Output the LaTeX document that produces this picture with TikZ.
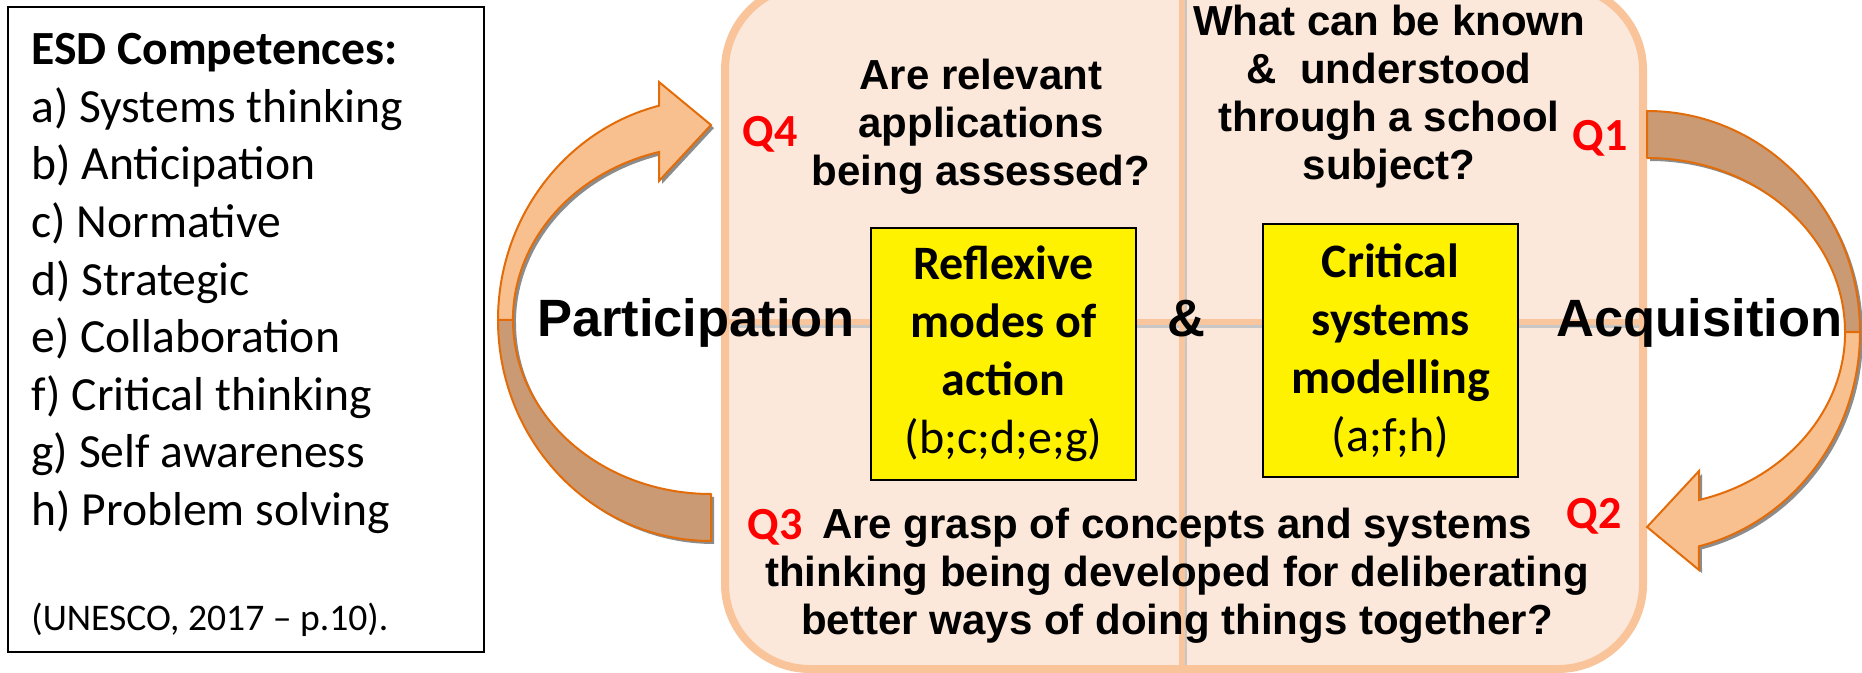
\documentclass[tikz,border=0pt]{standalone}
\usepackage{fontspec}
\setmainfont{Carlito}
\newfontfamily\arialfont{Liberation Sans}

\definecolor{panelfill}{HTML}{FCE8DA}
\definecolor{panelline}{HTML}{F9C49A}
\definecolor{dividerline}{HTML}{F8C59C}
\definecolor{frontfill}{HTML}{F8C08F}
\definecolor{backfill}{HTML}{C99A73}
\definecolor{arrowline}{HTML}{E36C0A}
\definecolor{qred}{HTML}{FF0000}

% the two faces of a curved arrow, drawn round the centre of its ellipse
\newcommand{\backface}{(0,221) arc[start angle=90, end angle=180, x radius=213, y radius=221] -- (-198,0) arc[start angle=180, end angle=90, x radius=198, y radius=174] -- cycle}
\newcommand{\frontface}{(-213,0) arc[start angle=180, end angle=255.9, x radius=213, y radius=221] -- (-52,-238) -- (0,-195) -- (-52,-139) -- (-52,-168) arc[start angle=254.8, end angle=180, x radius=198, y radius=174] -- cycle}

\tikzset{
  panel/.style={draw=panelline, fill=panelfill, line width=4pt, rounded corners=42.5pt, inner sep=0pt},
  divider/.style={draw=dividerline, line width=3pt},
  dividershadow/.style={draw=black!22, line width=3pt},
  backpart/.style={fill=backfill, draw=arrowline, line width=1pt, line join=round},
  frontpart/.style={fill=frontfill, draw=arrowline, line width=1pt, line join=miter},
  arrowshadow/.style={fill=black!45},
  modebox/.style={draw=black, fill=yellow, line width=1.2pt, minimum height=126pt, align=center, inner sep=0pt, font=\fontsize{24pt}{29pt}\selectfont},
  question/.style={anchor=north, align=center, inner sep=0pt, font={\arialfont\bfseries\fontsize{21pt}{24pt}\selectfont}},
  sidelabel/.style={anchor=base, inner sep=0pt, font={\arialfont\bfseries\fontsize{26.25pt}{30pt}\selectfont}},
  qlabel/.style={anchor=base, inner sep=0pt, text=qred, font={\bfseries\fontsize{23pt}{27pt}\selectfont}}
}

\begin{document}
\begin{tikzpicture}[x=0.5pt, y=-0.5pt]
  \path[use as bounding box, fill=white] (0,0) rectangle (1862,673);

  % competences list
  \node[draw, line width=1pt, minimum width=238pt, minimum height=322.5pt, inner sep=0pt] (esdframe) at (246,329.5) {};
  \node[anchor=north west, align=left, inner sep=0pt, font=\fontsize{23.8pt}{28.8pt}\selectfont] (esdlist) at (31,33)
    {\textbf{ESD Competences:}\\a) Systems thinking\\b) Anticipation\\c) Normative\\d) Strategic\\e) Collaboration\\f) Critical thinking\\g) Self awareness\\h) Problem solving};
  \node[anchor=base west, inner sep=0pt, font=\fontsize{18.8pt}{22pt}\selectfont] (source) at (31,630) {(UNESCO, 2017 – p.10).};

  % quadrant panel
  \node[panel, minimum width=459pt, minimum height=342pt] (panel) at (1184,327) {};
  \draw[dividershadow] (731,325) -- (1639,325);
  \draw[dividershadow] (1184,-10) -- (1184,665);
  \draw[divider] (729,322) -- (1639,322);
  \draw[divider] (1182,-10) -- (1182,665);

  % curved arrows
  \begin{scope}[shift={(714,323)}]
    \fill[arrowshadow] \backface;
    \fill[arrowshadow] \frontface;
  \end{scope}
  \begin{scope}[shift={(711,320)}]
    \filldraw[backpart] \backface;
    \filldraw[frontpart] \frontface;
  \end{scope}
  \begin{scope}[shift={(1650,335)}, rotate=180]
    \fill[arrowshadow] \backface;
    \fill[arrowshadow] \frontface;
  \end{scope}
  \begin{scope}[shift={(1647,332)}, rotate=180]
    \filldraw[backpart] \backface;
    \filldraw[frontpart] \frontface;
  \end{scope}

  % yellow boxes
  \node[modebox, minimum width=132.5pt] (reflexive) at (1003.5,354)
    {\textbf{Reflexive}\\\textbf{modes of}\\\textbf{action}\\(b;c;d;e;g)};
  \node[modebox, minimum width=127.5pt, minimum height=126.5pt] (critical) at (1390.5,350.5)
    {\textbf{Critical}\\\textbf{systems}\\\textbf{modelling}\\(a;f;h)};

  % questions
  \node[question] (q4text) at (981,59) {Are relevant\\applications\\being assessed?};
  \node[question] (q1text) at (1389,5) {What can be known\\\&\ \ understood\\through a school\\subject?};
  \node[question] (q3text) at (1177,508) {Are grasp of concepts and systems\\thinking being developed for deliberating\\better ways of doing things together?};

  \node[qlabel] (q4) at (770,147) {Q4};
  \node[qlabel] (q1) at (1600,151) {Q1};
  \node[qlabel] (q2) at (1594,528) {Q2};
  \node[qlabel] (q3) at (775,539) {Q3};

  \node[sidelabel] (participation) at (696,337) {Participation};
  \node[sidelabel] (and) at (1186,337) {\&};
  \node[sidelabel] (acquisition) at (1699.5,337) {Acquisition};
\end{tikzpicture}
\end{document}
